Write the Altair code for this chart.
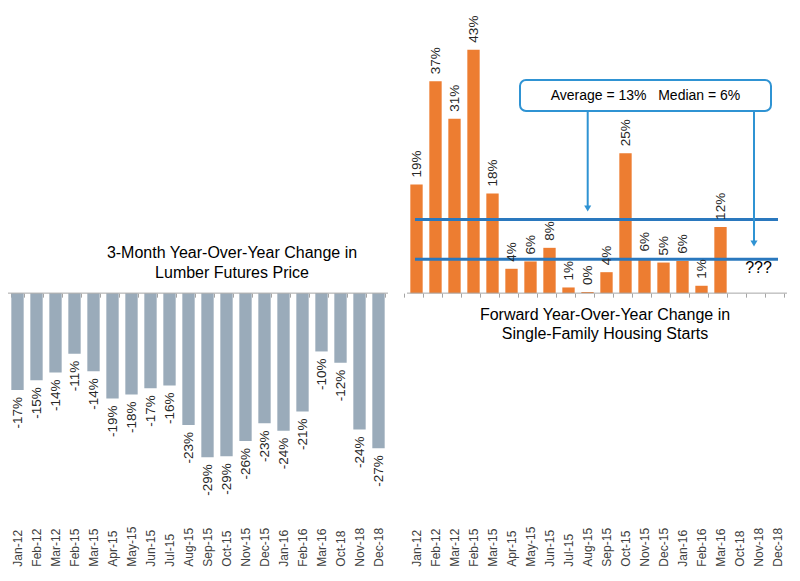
import math
import altair as alt
import pandas as pd

categories = ["Jan-12", "Feb-12", "Mar-12", "Feb-15", "Mar-15", "Apr-15", "May-15",
              "Jun-15", "Jul-15", "Aug-15", "Sep-15", "Oct-15", "Nov-15", "Dec-15",
              "Jan-16", "Feb-16", "Mar-16", "Oct-18", "Nov-18", "Dec-18"]
lumber_change = [-17.1, -15.4, -14.0, -10.7, -13.8, -18.6, -17.9, -16.8, -16.3, -23.3,
                 -29.0, -28.8, -26.1, -23.0, -24.3, -20.9, -10.3, -12.3, -24.1, -27.4]
housing_change = [19.2, 37.4, 30.8, 43.0, 17.6, 4.3, 5.6, 8.0, 1.0, 0.2,
                  3.7, 24.7, 6.1, 5.4, 5.7, 1.3, 11.7, None, None, None]
average_change = 13
median_change = 6
left_title = ["3-Month Year-Over-Year Change in", "Lumber Futures Price"]
right_title = ["Forward Year-Over-Year Change in", "Single-Family Housing Starts"]
box_text = "Average = 13%\u00a0\u00a0\u00a0Median = 6%"
unknown_text = "???"

FONT = "Liberation Sans"
BAND = 19
W, H = 41 * BAND, 470
Y_DOMAIN = [-33, 50]
zero_from_bottom = H * (0 - Y_DOMAIN[0]) / (Y_DOMAIN[1] - Y_DOMAIN[0])
R0 = 21 * BAND  # left edge of the right-hand group


def fmt(v):
    return None if v is None else f"{round(v)}%"


left_keys = ["L|" + c for c in categories]
right_keys = ["R|" + c for c in categories]
slot_domain = left_keys + ["gap"] + right_keys

left_df = pd.DataFrame({"key": left_keys, "v": lumber_change,
                        "lab": [fmt(v) for v in lumber_change]})
right_df = pd.DataFrame({"key": right_keys, "v": housing_change,
                         "lab": [fmt(v) for v in housing_change]})

x_axis = alt.Axis(title=None, orient="bottom", offset=-zero_from_bottom,
                  domain=False, tickColor="#A6A6A6",
                  tickSize=4, tickBand="extent", labelAngle=270, labelAlign="left",
                  labelBaseline="middle", labelPadding=269, labelFontSize=12,
                  labelColor="#404040", labelFont=FONT, labelOverlap=False, grid=False,
                  labelExpr="datum.label == 'gap' ? '' : slice(datum.label, 2)")
x_scale = alt.Scale(domain=slot_domain, paddingInner=0.35, paddingOuter=0.175)
x_enc = alt.X("key:N", sort=slot_domain, axis=x_axis, scale=x_scale)
y_scale = alt.Scale(domain=Y_DOMAIN, nice=False)
y_enc = alt.Y("v:Q", axis=None, scale=y_scale)


def one(**kw):
    return alt.Chart(pd.DataFrame({"t": [kw.pop("t", "")]}))


def text_at(t, x, y, size):
    return alt.Chart(pd.DataFrame({"t": [t]})).mark_text(
        font=FONT, fontSize=size, color="#000000", align="center", baseline="middle"
    ).encode(x=alt.value(x), y=alt.value(y), text="t:N")


# zero lines (axis domain, split into two groups)
zero_df = pd.DataFrame({"x0": [0, R0], "x1": [20 * BAND, W], "z": [0, 0]})
zero_lines = alt.Chart(zero_df).mark_rule(color="#A6A6A6", strokeWidth=1).encode(
    y=alt.Y("z:Q", scale=y_scale, axis=None),
    x=alt.X("x0:Q", scale=None), x2="x1:Q")

left_base = alt.Chart(left_df)
left_bars = left_base.mark_bar(color="#9AABBA").encode(x=x_enc, y=y_enc)
left_labels = left_base.mark_text(font=FONT, fontSize=13.5, color="#262626", angle=270,
                                  align="right", baseline="middle",
                                  radius=7, theta=math.pi).encode(
    x=x_enc, y=y_enc, text="lab:N")

right_base = alt.Chart(right_df)
right_bars = right_base.mark_bar(color="#ED7D31").encode(x=x_enc, y=y_enc)
right_labels = right_base.mark_text(font=FONT, fontSize=13.5, color="#262626", angle=270,
                                    align="left", baseline="middle",
                                    radius=7, theta=0).encode(
    x=x_enc, y=y_enc, text="lab:N")

line_color = "#2A78BE"
arrow_color = "#2F93D3"
stat_df = pd.DataFrame({"v": [average_change, median_change]})
stat_lines = alt.Chart(stat_df).mark_rule(color=line_color, strokeWidth=3).encode(
    y=alt.Y("v:Q", scale=y_scale, axis=None),
    x=alt.value(R0 + 8), x2=alt.value(R0 + 371))

box = alt.Chart(pd.DataFrame({"t": [box_text]})).mark_rect(
    fill="white", stroke=arrow_color, strokeWidth=2, cornerRadius=6).encode(
    x=alt.value(R0 + 113), x2=alt.value(R0 + 364), y=alt.value(70), y2=alt.value(101))
box_label = text_at(box_text, R0 + 238.5, 86, 14)
arrow1 = alt.Chart(pd.DataFrame({"a": [1]})).mark_rule(color=arrow_color, strokeWidth=2).encode(
    x=alt.value(R0 + 180.7), y=alt.value(101), y2=alt.value(197))
arrow2 = alt.Chart(pd.DataFrame({"a": [1]})).mark_rule(color=arrow_color, strokeWidth=2).encode(
    x=alt.value(R0 + 347), y=alt.value(101), y2=alt.value(232))
head1 = alt.Chart(pd.DataFrame({"a": [1]})).mark_point(
    shape="triangle-down", filled=True, color=arrow_color, size=50, opacity=1).encode(
    x=alt.value(R0 + 180.7), y=alt.value(198.5))
head2 = alt.Chart(pd.DataFrame({"a": [1]})).mark_point(
    shape="triangle-down", filled=True, color=arrow_color, size=50, opacity=1).encode(
    x=alt.value(R0 + 347), y=alt.value(233.5))
unknown = text_at(unknown_text, R0 + 351.5, 258, 16)

titles = [text_at(left_title[0], 224, 243, 16), text_at(left_title[1], 224, 263, 16),
          text_at(right_title[0], R0 + 198, 305, 16), text_at(right_title[1], R0 + 198, 324, 16)]

chart = alt.layer(
    left_bars, right_bars, zero_lines, stat_lines, left_labels, right_labels,
    box, box_label, arrow1, arrow2, head1, head2, unknown, *titles
).properties(
    width=W, height=H,
    autosize=alt.AutoSizeParams(type="none"),
    padding={"left": 0, "top": 2, "right": 5, "bottom": 95}
).configure(font=FONT, view=alt.ViewConfig(strokeWidth=0, stroke="transparent"))

chart.save("out.html", embed_options={"renderer": "svg", "actions": False})
